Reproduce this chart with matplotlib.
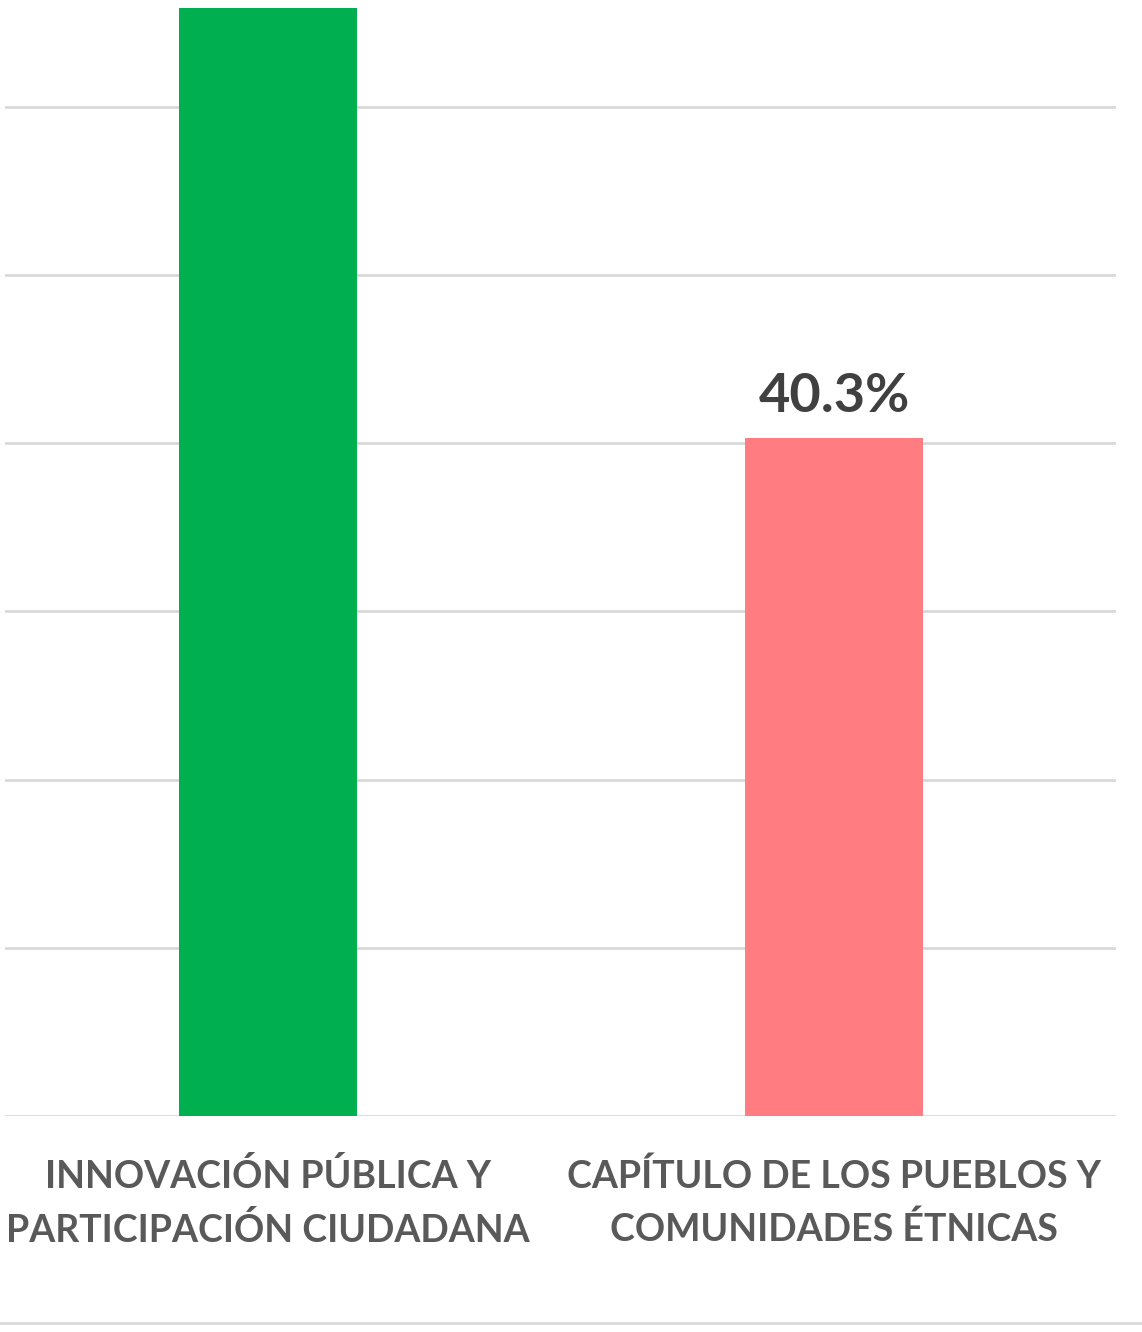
import matplotlib.pyplot as plt
from matplotlib.lines import Line2D

# datos del grafico
categorias = ["INNOVACIÓN PÚBLICA Y\nPARTICIPACIÓN CIUDADANA",
              "CAPÍTULO DE LOS PUEBLOS Y\nCOMUNIDADES ÉTNICAS"]
valores = [65.9, 40.3]
etiquetas = [None, "40.3%"]   # la etiqueta de la barra verde queda fuera del recorte
colores = ["#00B050", "#FF7C80"]
gridticks = [0, 10, 20, 30, 40, 50, 60]

W, H = 1142, 1332
fig = plt.figure(figsize=(W / 100, H / 100), dpi=100)
plt.rcParams['font.family'] = ['Lato', 'DejaVu Sans']

# el area del grafico sube por encima del borde de la figura
ymax = 70
px_per = 16.817
top_px = 1116 - ymax * px_per
ax = fig.add_axes([5 / W, (H - 1116) / H, (1116 - 5) / W, (1116 - top_px) / H])
ax.set_xlim(-0.465, 1.498)
ax.set_ylim(0, ymax)

x = range(len(valores))
bars = ax.bar(x, valores, width=0.3145, color=colores, zorder=3)

for xi, v, lab in zip(x, valores, etiquetas):
    if lab:
        ax.text(xi, v + 1.0, lab, ha="center", va="bottom",
                fontsize=39, fontweight="bold", color="#404040")

ax.set_yticks(gridticks)
ax.yaxis.grid(True, color="#D9D9D9", linewidth=2, zorder=0)
ax.tick_params(left=False, bottom=False, labelleft=False, labelbottom=False)
for s in ax.spines.values():
    s.set_visible(False)

for xi, cat in zip(x, categorias):
    ax.text(xi, -2.5, cat, ha="center", va="top", fontsize=27,
            fontweight="bold", color="#595959", linespacing=1.6)

# linea inferior del marco
fig.add_artist(Line2D([0, 1], [(H - 1323) / H] * 2, color="#D9D9D9", linewidth=2))

fig.savefig("out.png", dpi=100)
